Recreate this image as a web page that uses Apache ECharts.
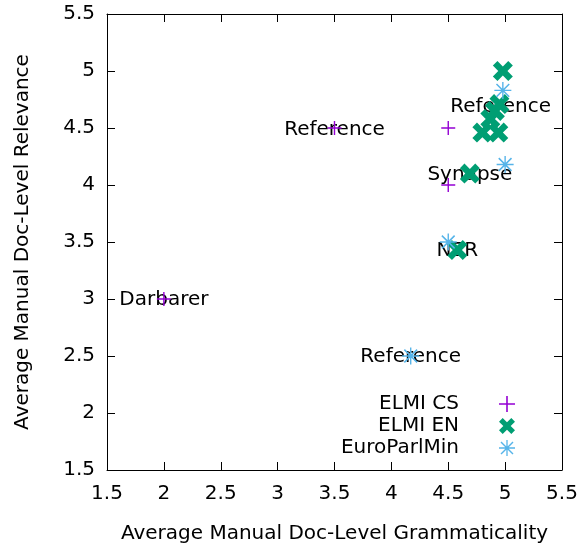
<!DOCTYPE html>
<html>
<head>
<meta charset="utf-8">
<script src="https://cdn.jsdelivr.net/npm/echarts@6/dist/echarts.min.js"></script>
<style>html,body{margin:0;padding:0;background:#fff}#c{width:582px;height:544px}</style>
</head>
<body>
<div id="c"></div>
<script>
// ---- data ----
var xTicks = [1.5, 2, 2.5, 3, 3.5, 4, 4.5, 5, 5.5];
var yTicks = [1.5, 2, 2.5, 3, 3.5, 4, 4.5, 5, 5.5];
var seriesNames = ['ELMI CS', 'ELMI EN', 'EuroParlMin'];
var elmiCS = [[3.5, 4.5], [4.5, 4.5], [4.5, 4.0], [2.0, 3.0]];
var elmiEN = [[4.98, 5.0], [4.8, 4.46], [4.94, 4.46], [4.87, 4.58], [4.91, 4.65], [4.95, 4.71], [4.69, 4.1], [4.58, 3.43]];
var euroParlMin = [[4.98, 4.83], [5.0, 4.18], [4.5, 3.5], [4.17, 2.5]];
var labelTexts = ['Reference', 'Reference', 'Synapse', 'NER', 'Darbarer', 'Reference'];
var labelPoints = [[3.5, 4.48], [4.96, 4.69], [4.69, 4.09], [4.58, 3.42], [2.0, 2.99], [4.17, 2.49]];
var xTitle = 'Average Manual Doc-Level Grammaticality';
var yTitle = 'Average Manual Doc-Level Relevance';

// ---- symbols ----
var plusPath = 'path://M6.3,0H7.7V6.3H14V7.7H7.7V14H6.3V7.7H0V6.3H6.3Z';
var a = 4.6;
var crossPath = 'path://M0,' + a + 'L' + a + ',0L10,' + (10 - a) + 'L' + (20 - a) + ',0L20,' + a + 'L' + (10 + a) + ',10L20,' + (20 - a) + 'L' + (20 - a) + ',20L10,' + (10 + a) + 'L' + a + ',20L0,' + (20 - a) + 'L' + (10 - a) + ',10Z';
var t0 = 0.65, d = 0.5;
var starPath = 'path://' +
  'M0,' + (8 - t0) + 'H16V' + (8 + t0) + 'H0Z' +
  'M' + (8 - t0) + ',0H' + (8 + t0) + 'V16H' + (8 - t0) + 'Z' +
  'M' + (2 + d) + ',' + (2 - d) + 'L' + (14 + d) + ',' + (14 - d) + 'L' + (14 - d) + ',' + (14 + d) + 'L' + (2 - d) + ',' + (2 + d) + 'Z' +
  'M' + (14 + d) + ',' + (2 + d) + 'L' + (2 + d) + ',' + (14 + d) + 'L' + (2 - d) + ',' + (14 - d) + 'L' + (14 - d) + ',' + (2 - d) + 'Z';

var colors = ['#9400d3', '#009e73', '#56b4e9'];
var FONT = 'DejaVu Sans';

var labelData = labelTexts.map(function (n, i) { return { name: n, value: labelPoints[i] }; });

var axisCommon = {
  type: 'value', min: 1.5, max: 5.5, interval: 0.5,
  axisLine: { show: true, lineStyle: { color: '#000', width: 1 } },
  axisTick: { show: true, inside: true, length: 8, lineStyle: { color: '#000', width: 1 } },
  splitLine: { show: false }
};

var chart = echarts.init(document.getElementById('c'), null, { renderer: 'canvas' });
chart.setOption({
  animation: false,
  textStyle: { fontFamily: FONT },
  grid: { left: 107, right: 20, top: 14, bottom: 74, containLabel: false, outerBoundsMode: 'none' },
  xAxis: [
    Object.assign({}, axisCommon, {
      position: 'bottom',
      name: xTitle, nameLocation: 'middle', nameGap: 54,
      nameTextStyle: { fontSize: 20, color: '#000', fontFamily: FONT },
      axisLabel: { fontSize: 20, color: '#000', margin: 14, fontFamily: FONT,
        formatter: function (v) { return xTicks.indexOf(v) >= 0 ? String(v) : ''; } }
    }),
    Object.assign({}, axisCommon, { position: 'top', axisLabel: { show: false } })
  ],
  yAxis: [
    Object.assign({}, axisCommon, {
      position: 'left',
      name: yTitle, nameLocation: 'middle', nameGap: 74,
      nameTextStyle: { fontSize: 20, color: '#000', fontFamily: FONT },
      axisLabel: { fontSize: 20, color: '#000', margin: 12, fontFamily: FONT,
        formatter: function (v) { return yTicks.indexOf(v) >= 0 ? String(v) : ''; } }
    }),
    Object.assign({}, axisCommon, { position: 'right', axisLabel: { show: false } })
  ],
  legend: {
    orient: 'vertical', right: 62, top: 389, align: 'right',
    itemWidth: 20, itemHeight: 16, itemGap: 2,
    textStyle: { fontSize: 20, color: '#000', fontFamily: FONT, padding: [0, 33, 0, 0] },
    data: [
      { name: seriesNames[0], icon: plusPath, itemStyle: { opacity: 1 } },
      { name: seriesNames[1], icon: crossPath, itemStyle: { opacity: 1 } },
      { name: seriesNames[2], icon: starPath, itemStyle: { opacity: 1 } }
    ]
  },
  series: [
    {
      type: 'scatter', name: 'labels', data: labelData, symbolSize: 1, silent: true, z: 1,
      label: { show: true, position: 'inside', formatter: '{b}', color: '#000', fontSize: 20, fontFamily: FONT },
      itemStyle: { color: 'rgba(0,0,0,0)', opacity: 1 }
    },
    { type: 'scatter', name: seriesNames[0], data: elmiCS, symbol: plusPath, symbolSize: 14, z: 3,
      itemStyle: { color: colors[0], opacity: 1 } },
    { type: 'scatter', name: seriesNames[1], data: elmiEN, symbol: crossPath, symbolSize: 20, z: 3,
      itemStyle: { color: colors[1], opacity: 1 } },
    { type: 'scatter', name: seriesNames[2], data: euroParlMin, symbol: starPath, symbolSize: 17, z: 3,
      itemStyle: { color: colors[2], opacity: 1 } }
  ]
});
</script>
</body>
</html>
